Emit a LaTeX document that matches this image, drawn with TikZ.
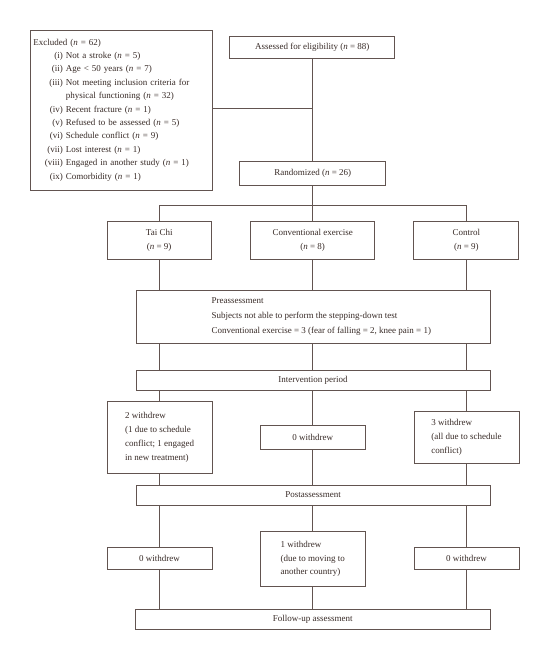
\documentclass[tikz,border=0pt]{standalone}
\usepackage{fontspec}
\setmainfont{Liberation Serif}
\definecolor{linec}{RGB}{98,84,80}
\definecolor{txtc}{RGB}{55,42,38}
\newcommand\nn{\textit{n}}
\newcommand\lb[1]{\makebox[29.5pt][r]{#1}\ }
\tikzset{
  box/.style={draw=linec, line width=0.9pt, inner sep=0pt, text=txtc,
    font=\fontsize{9}{14}\selectfont, align=center},
  conn/.style={draw=linec, line width=0.9pt},
}
\begin{document}
\begin{tikzpicture}[x=1pt,y=-1pt]
\useasboundingbox (0,0) rectangle (550,660);
% top
\node[box, minimum width=164.7, minimum height=22.3] (assess) at (312.2,47.2) {Assessed for eligibility (\nn{} = 88)};
\node[box, minimum width=182, minimum height=160, text width=176.8, align=left,
  font=\fontsize{9}{13.4}\selectfont] (excl) at (121.7,110) {Excluded (\nn{} = 62)\\
\lb{(i)}Not a stroke (\nn{} = 5)\\
\lb{(ii)}Age < 50 years (\nn{} = 7)\\
\lb{(iii)}Not meeting inclusion criteria for\\
\lb{}physical functioning (\nn{} = 32)\\
\lb{(iv)}Recent fracture (\nn{} = 1)\\
\lb{(v)}Refused to be assessed (\nn{} = 5)\\
\lb{(vi)}Schedule conflict (\nn{} = 9)\\
\lb{(vii)}Lost interest (\nn{} = 1)\\
\lb{(viii)}Engaged in another study (\nn{} = 1)\\
\lb{(ix)}Comorbidity (\nn{} = 1)};
\node[box, minimum width=146, minimum height=24] (rand) at (312.7,173.7) {Randomized (\nn{} = 26)};
% groups
\node[box, minimum width=104.5, minimum height=37.6, font=\fontsize{9}{14.4}\selectfont] (taichi) at (159.2,240.5) {Tai Chi\\(\nn{} = 9)};
\node[box, minimum width=124, minimum height=37.6, font=\fontsize{9}{14.4}\selectfont] (conv) at (312.7,240.5) {Conventional exercise\\(\nn{} = 8)};
\node[box, minimum width=105, minimum height=37.6, font=\fontsize{9}{14.4}\selectfont] (ctrl) at (466.3,240.5) {Control\\(\nn{} = 9)};
% pre
\node[box, minimum width=354, minimum height=53.3, align=left, font=\fontsize{9}{15.3}\selectfont] (pre) at (313,316.7)
 {\hspace*{16.6pt}Preassessment\\
  \hspace*{16.6pt}Subjects not able to perform the stepping-down test\\
  \hspace*{16.6pt}Conventional exercise = 3 (fear of falling = 2, knee pain = 1)};
\node[box, minimum width=354, minimum height=19.3] (interv) at (313,380.3) {Intervention period};
% withdrawals 1
\node[box, minimum width=105, minimum height=71.6, align=left] (tw) at (159.5,437.5)
 {2 withdrew\\(1 due to schedule\\conflict; 1 engaged\\in new treatment)};
\node[box, minimum width=105, minimum height=24.3] (cw) at (312.8,437.2) {0 withdrew};
\node[box, minimum width=105, minimum height=52, align=left] (rw) at (466.5,437.7)
 {3 withdrew\\(all due to schedule\\conflict)};
\node[box, minimum width=354, minimum height=20] (post) at (313,495) {Postassessment};
% withdrawals 2
\node[box, minimum width=105, minimum height=21.6] (t0) at (159.5,558.5) {0 withdrew};
\node[box, minimum width=105, minimum height=54.3, align=left, font=\fontsize{9}{13.8}\selectfont] (c1) at (312.8,558.9)
 {1 withdrew\\(due to moving to\\another country)};
\node[box, minimum width=105, minimum height=21.6] (r0) at (466.5,558.5) {0 withdrew};
\node[box, minimum width=354.7, minimum height=19.7] (follow) at (312.7,619.2) {Follow-up assessment};
% connectors
\coordinate (j) at (312.7,108.3);
\coordinate (sp) at (312.7,205);
\draw[conn] (assess.south -| j) -- (rand.north -| j);
\draw[conn] (j -| excl.east) -- (j);
\draw[conn] (rand.south -| sp) -- (sp);
\draw[conn] (taichi.north) -- (taichi.north |- sp) -- (ctrl.north |- sp) -- (ctrl.north);
\draw[conn] (conv.north) -- (sp);
\foreach \c in {taichi,conv,ctrl}{
  \draw[conn] (\c.south) -- (\c.south |- pre.north);
  \draw[conn] (\c.south |- pre.south) -- (\c.south |- interv.north);
}
\foreach \u/\l in {tw/t0,cw/c1,rw/r0}{
  \draw[conn] (\u.north |- interv.south) -- (\u.north);
  \draw[conn] (\u.south) -- (\u.south |- post.north);
  \draw[conn] (\l.north |- post.south) -- (\l.north);
  \draw[conn] (\l.south) -- (\l.south |- follow.north);
}
\end{tikzpicture}
\end{document}
